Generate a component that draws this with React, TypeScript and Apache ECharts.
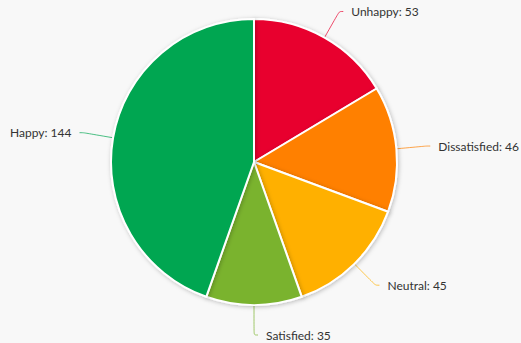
import React, { useEffect, useRef } from "react";
import * as echarts from "echarts";

const categories = ["Unhappy", "Dissatisfied", "Neutral", "Satisfied", "Happy"];
const values = [53, 46, 45, 35, 144];
const colors = ["#E8002D", "#FF8000", "#FFB000", "#7AB32E", "#00A651"];

export default function App() {
  const ref = useRef<HTMLDivElement>(null);
  useEffect(() => {
    if (!ref.current) return;
    const chart = echarts.init(ref.current, null, { renderer: "svg" });
    chart.setOption({
      animation: false,
      backgroundColor: "#F8F8F8",
      series: [
        {
          type: "pie",
          center: [254, 162],
          radius: 143,
          startAngle: 90,
          clockwise: true,
          data: categories.map((c, i) => ({
            name: c,
            value: values[i],
            itemStyle: { color: colors[i] },
            labelLine: { lineStyle: { color: colors[i], opacity: 0.7 } },
          })),
          itemStyle: {
            borderColor: "#FFFFFF",
            borderWidth: 2,
            shadowBlur: 4,
            shadowColor: "rgba(0,0,0,0.25)",
            shadowOffsetX: 1,
            shadowOffsetY: 1,
          },
          label: {
            show: true,
            formatter: "{b}: {c}",
            color: "#333333",
            fontFamily: "Lato",
            fontSize: 12,
            distanceToLabelLine: 8,
            overflow: "none",
          },
          labelLine: {
            show: true,
            length: 30,
            length2: 4,
            smooth: 0.3,
            lineStyle: { width: 1 },
          },
        },
      ],
    });
    return () => chart.dispose();
  }, []);
  return (
    <div
      ref={ref}
      style={{ position: "fixed", left: 0, top: 0, width: 521, height: 343 }}
    />
  );
}
